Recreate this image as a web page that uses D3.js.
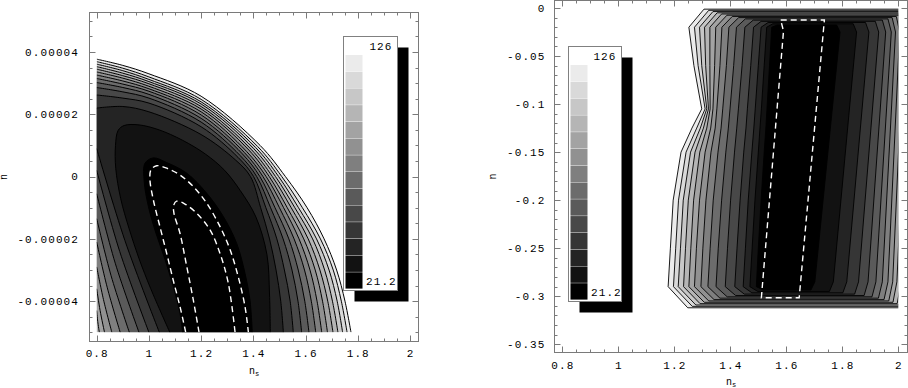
<!DOCTYPE html>
<html>
<head>
<meta charset="utf-8">
<script src="https://cdn.jsdelivr.net/npm/d3@7"></script>
<style>
body { margin: 0; background: #fff; }
svg text { font-family: "Liberation Mono", "DejaVu Sans Mono", monospace; font-size: 11px; fill: #000; letter-spacing: 1.1px; }
</style>
</head>
<body>
<svg id="chart" width="908" height="388"></svg>
<script>
// ---- data ----
const nBands = 14;
const legendLabels = ["21.2", "126"];

const leftXTicks = [0.8, 1, 1.2, 1.4, 1.6, 1.8, 2];
const leftXLabels = ["0.8", "1", "1.2", "1.4", "1.6", "1.8", "2"];
const leftYTicks = [-4e-5, -2e-5, 0, 2e-5, 4e-5];
const leftYLabels = ["-0.00004", "-0.00002", "0", "0.00002", "0.00004"];
const rightXTicks = [0.8, 1, 1.2, 1.4, 1.6, 1.8, 2];
const rightXLabels = ["0.8", "1", "1.2", "1.4", "1.6", "1.8", "2"];
const rightYTicks = [0, -0.05, -0.1, -0.15, -0.2, -0.25, -0.3, -0.35];
const rightYLabels = ["0", "-0.05", "-0.1", "-0.15", "-0.2", "-0.25", "-0.3", "-0.35"];

// left panel: n_s vs y in units of 1e-5, data cut at y = -5
const LY = 1e-5;
// levels 1 and 2: closed on the bottom edge
const leftInner = [
  [[1.129,-5],[1.119,-4.39],[1.093,-3.53],[1.062,-2.67],[1.027,-1.82],[0.998,-0.96],[0.982,-0.16],
   [0.985,0.43],[1.017,0.6],[1.068,0.45],[1.145,0.11],[1.221,-0.53],[1.285,-1.28],[1.336,-2.14],
   [1.368,-3.1],[1.387,-3.96],[1.396,-5]],
  [[1.08,-5],[1.007,-3.6],[0.962,-2.63],[0.924,-1.67],[0.892,-0.71],[0.873,0.26],[0.872,1.0],
   [0.882,1.48],[0.905,1.64],[0.962,1.66],[1.039,1.5],[1.128,1.17],[1.217,0.72],[1.29,0.2],
   [1.35,-0.45],[1.41,-1.3],[1.452,-2.5],[1.462,-3.8],[1.465,-5]]
];
// levels 3..14: upper arc, from left edge to bottom edge
const leftArcs = [
  [[0.8,2.2],[0.9,2.25],[1.0,2.08],[1.2,1.35],[1.332,0.53],[1.389,0],[1.428,-1],[1.462,-2],[1.487,-3],[1.505,-4],[1.515,-5]],
  [[0.8,2.62],[0.9,2.52],[1.0,2.36],[1.2,1.6],[1.341,0.62],[1.401,0],[1.448,-1],[1.49,-2],[1.519,-3],[1.541,-4],[1.553,-5]],
  [[0.8,2.86],[0.9,2.72],[1.0,2.52],[1.2,1.75],[1.349,0.68],[1.413,0],[1.466,-1],[1.514,-2],[1.548,-3],[1.571,-4],[1.585,-5]],
  [[0.8,3.02],[0.9,2.86],[1.0,2.64],[1.2,1.87],[1.358,0.73],[1.425,0],[1.483,-1],[1.536,-2],[1.572,-3],[1.597,-4],[1.613,-5]],
  [[0.8,3.15],[0.9,2.97],[1.0,2.74],[1.2,1.98],[1.366,0.77],[1.437,0],[1.5,-1],[1.556,-2],[1.596,-3],[1.622,-4],[1.639,-5]],
  [[0.8,3.26],[0.9,3.07],[1.0,2.82],[1.2,2.08],[1.374,0.81],[1.449,0],[1.516,-1],[1.575,-2],[1.617,-3],[1.644,-4],[1.662,-5]],
  [[0.8,3.36],[0.9,3.16],[1.0,2.9],[1.2,2.17],[1.383,0.85],[1.461,0],[1.53,-1],[1.593,-2],[1.637,-3],[1.665,-4],[1.684,-5]],
  [[0.8,3.45],[0.9,3.24],[1.0,2.98],[1.2,2.25],[1.391,0.88],[1.473,0],[1.545,-1],[1.61,-2],[1.655,-3],[1.685,-4],[1.705,-5]],
  [[0.8,3.53],[0.9,3.32],[1.0,3.05],[1.2,2.33],[1.4,0.91],[1.485,0],[1.559,-1],[1.627,-2],[1.673,-3],[1.703,-4],[1.724,-5]],
  [[0.8,3.61],[0.9,3.4],[1.0,3.12],[1.2,2.4],[1.408,0.94],[1.497,0],[1.573,-1],[1.642,-2],[1.69,-3],[1.721,-4],[1.742,-5]],
  [[0.8,3.69],[0.9,3.48],[1.0,3.2],[1.2,2.48],[1.416,0.97],[1.509,0],[1.588,-1],[1.657,-2],[1.706,-3],[1.737,-4],[1.759,-5]],
  [[0.8,3.77],[0.9,3.57],[1.0,3.3],[1.2,2.58],[1.426,1.0],[1.523,0],[1.606,-1],[1.671,-2],[1.719,-3],[1.751,-4],[1.774,-5]]
];
// levels 3..10: lower arm, from left edge to bottom edge
const leftArms = [
  [[0.8,0.9],[0.908,-2.05],[1.04,-5]],
  [[0.8,0.2],[0.888,-2.4],[1.0,-5]],
  [[0.8,-0.55],[0.871,-2.78],[0.962,-5]],
  [[0.8,-1.35],[0.855,-3.18],[0.925,-5]],
  [[0.8,-2.1],[0.84,-3.55],[0.89,-5]],
  [[0.8,-2.9],[0.826,-3.95],[0.858,-5]],
  [[0.8,-3.6],[0.813,-4.3],[0.83,-5]],
  [[0.8,-4.3],[0.804,-4.65],[0.81,-5]]
];
const leftDashed = [
  [[1.141,-5],[1.119,-4.17],[1.093,-3.32],[1.068,-2.46],[1.042,-1.6],[1.017,-0.75],[1.004,-0.1],
   [1.008,0.22],[1.03,0.35],[1.068,0.27],[1.119,0.05],[1.17,-0.32],[1.221,-0.85],[1.272,-1.6],
   [1.311,-2.35],[1.342,-3.21],[1.368,-4.17],[1.381,-5]],
  [[1.192,-5],[1.17,-3.96],[1.145,-2.89],[1.119,-1.82],[1.096,-1.18],[1.095,-0.92],[1.106,-0.79],
   [1.138,-0.88],[1.183,-1.18],[1.234,-1.71],[1.272,-2.46],[1.304,-3.42],[1.33,-5]]
];

// right panel: nested boxes, levels 1..14
const rightTopY = [-0.0177,-0.0164,-0.0151,-0.0139,-0.0126,-0.0113,-0.01,-0.0088,-0.0075,-0.0062,-0.005,-0.0037,-0.0024,-0.0012];
const rightBotY = [-0.2935,-0.295,-0.2964,-0.2978,-0.2992,-0.3006,-0.302,-0.3035,-0.3049,-0.3063,-0.3077,-0.3091,-0.3105,-0.312];
const rightSideY = [-0.02, -0.06, -0.105, -0.125, -0.15, -0.2, -0.25, -0.29];
const rightLeftX = [
  [1.548,1.54,1.531,1.527,1.521,1.51,1.5,1.493],
  [1.53,1.521,1.511,1.506,1.5,1.488,1.478,1.47],
  [1.51,1.5,1.489,1.484,1.477,1.464,1.454,1.446],
  [1.483,1.473,1.461,1.456,1.448,1.435,1.424,1.416],
  [1.452,1.442,1.429,1.423,1.415,1.401,1.39,1.382],
  [1.422,1.412,1.399,1.393,1.384,1.369,1.357,1.349],
  [1.395,1.386,1.373,1.367,1.356,1.339,1.328,1.32],
  [1.37,1.363,1.352,1.346,1.331,1.313,1.302,1.295],
  [1.348,1.344,1.338,1.33,1.31,1.29,1.279,1.272],
  [1.327,1.327,1.328,1.316,1.291,1.269,1.259,1.252],
  [1.308,1.312,1.322,1.304,1.274,1.25,1.24,1.233],
  [1.29,1.298,1.316,1.293,1.258,1.232,1.222,1.214],
  [1.272,1.285,1.31,1.28,1.242,1.215,1.205,1.197],
  [1.252,1.27,1.298,1.263,1.224,1.196,1.186,1.178]
];
const rightRightX = [
  [1.792,1.702],[1.851,1.768],[1.895,1.816],[1.93,1.858],[1.955,1.892],[1.975,1.92],[1.99,1.943],
  [2.005,1.963],[2.02,1.98],[2.035,1.995],[2.05,2.01],[2.06,2.02],[2.07,2.03],[2.08,2.04]
];
const rightCornerTop = [0.02,0.022,0.025,0.027,0.03,0.032,0.035,0.037,0.04,0.042,0.045,0.048,0.051,0.054];
const rightCornerBot = [0.025,0.028,0.031,0.034,0.037,0.04,0.043,0.047,0.051,0.055,0.059,0.063,0.067,0.07];
const rightDashed = [[1.58,-0.0125],[1.736,-0.0125],[1.646,-0.3015],[1.511,-0.3015],[1.59,-0.024]];

// ---- drawing ----
const svg = d3.select("#chart");
const defs = svg.append("defs");
const shade = d3.scaleLinear().domain([0, nBands - 1]).range(["#000000", "#ebebeb"]);
const frameColor = "#7a7a7a";
const smooth = d3.line().curve(d3.curveCatmullRom.alpha(0.5));
const straight = d3.line();

function addClip(id, x0, y0, x1, y1) {
  defs.append("clipPath").attr("id", id).append("rect")
    .attr("x", x0).attr("y", y0).attr("width", x1 - x0).attr("height", y1 - y0);
}

function minorValues(scale, a, b, step) {
  let lo = Math.min(scale.invert(a), scale.invert(b));
  let hi = Math.max(scale.invert(a), scale.invert(b));
  return d3.range(Math.ceil(lo / step - 1e-6), Math.floor(hi / step + 1e-6) + 1).map(i => i * step);
}

function drawFrame(g, f, xs, ys, o) {
  let t = g.append("g").attr("stroke", frameColor).attr("stroke-width", 1);
  let tick = (x1, y1, x2, y2) => t.append("line").attr("x1", x1).attr("y1", y1).attr("x2", x2).attr("y2", y2);
  minorValues(xs, f.x0, f.x1, o.xMinor).forEach(v => {
    let x = Math.round(xs(v)) + 0.5;
    tick(x, f.y1, x, f.y1 - 3); tick(x, f.y0, x, f.y0 + 3);
  });
  minorValues(ys, f.y0, f.y1, o.yMinor).forEach(v => {
    let y = Math.round(ys(v)) + 0.5;
    tick(f.x0, y, f.x0 + 3, y); tick(f.x1, y, f.x1 - 3, y);
  });
  o.xTicks.forEach(v => {
    let x = Math.round(xs(v)) + 0.5;
    tick(x, f.y1, x, f.y1 - 6); tick(x, f.y0, x, f.y0 + 6);
  });
  o.yTicks.forEach(v => {
    let y = Math.round(ys(v)) + 0.5;
    tick(f.x0, y, f.x0 + 6, y); tick(f.x1, y, f.x1 - 6, y);
  });
  t.append("rect").attr("x", f.x0).attr("y", f.y0)
    .attr("width", f.x1 - f.x0).attr("height", f.y1 - f.y0).attr("fill", "none");

  g.append("g").selectAll("text").data(o.xTicks).join("text")
    .attr("x", v => xs(v) + 0.5).attr("y", f.y1 + o.xLabelGap).attr("dy", "0.35em")
    .attr("text-anchor", "middle").text((v, i) => o.xLabels[i]);
  g.append("g").selectAll("text").data(o.yTicks).join("text")
    .attr("x", f.x0 - o.yLabelGap).attr("y", v => ys(v)).attr("dy", "0.35em")
    .attr("text-anchor", "end").text((v, i) => o.yLabels[i]);

  let xt = g.append("text").attr("x", (f.x0 + f.x1) / 2).attr("y", o.xTitleY)
    .attr("text-anchor", "middle").style("font-size", "10px").style("letter-spacing", "0px");
  xt.append("tspan").text("n");
  xt.append("tspan").attr("dy", 2).style("font-size", "7px").text("s");
  g.append("text").attr("transform", `translate(${o.yTitleX},${(f.y0 + f.y1) / 2}) rotate(-90)`)
    .attr("text-anchor", "middle").attr("dy", "0.35em")
    .style("font-size", "10px").style("letter-spacing", "0px").text("n");
}

function drawLegend(g, L) {
  g.append("rect").attr("x", L.x + 11).attr("y", L.y + 11).attr("width", L.w).attr("height", L.h).attr("fill", "#000");
  g.append("rect").attr("x", L.x).attr("y", L.y).attr("width", L.w).attr("height", L.h)
    .attr("fill", "#fff").attr("stroke", "#808080");
  let sh = (L.h - 20) / nBands;
  g.append("g").selectAll("rect").data(d3.range(nBands)).join("rect")
    .attr("x", L.x + 2).attr("y", b => L.y + 18.5 + (nBands - 1 - b) * sh)
    .attr("width", 17).attr("height", sh - 0.4).attr("fill", b => shade(b));
  g.append("text").attr("x", L.x + L.w - 5).attr("y", L.y + 10).attr("dy", "0.35em")
    .attr("text-anchor", "end").text(legendLabels[1]);
  g.append("text").attr("x", L.x + 22.5).attr("y", L.y + L.h - 9.5).attr("dy", "0.35em")
    .text(legendLabels[0]);
}

// left panel
{
  const f = {x0: 89.5, x1: 418.5, y0: 12.5, y1: 341.5};
  const x = d3.scaleLinear().domain([0.8, 2]).range([96.7, 410]);
  const y = d3.scaleLinear().domain([-4e-5, 4e-5]).range([301.2, 52]);
  const pt = p => [x(p[0]), y(p[1] * LY)];
  const g = svg.append("g");
  addClip("clipL", x(0.8), y(5 * LY), f.x1, y(-5 * LY));
  const body = g.append("g").attr("clip-path", "url(#clipL)");

  function fillPath(level) {
    if (level <= 2) return smooth(leftInner[level - 1].map(pt)) + "Z";
    let s = smooth(leftArcs[level - 3].map(pt));
    let arm = leftArms[level - 3];
    if (arm) s += smooth(arm.slice().reverse().map(pt)).replace(/^M/, "L") + "Z";
    else s += "L" + pt([0.8, -5]).join(",") + "Z";
    return s;
  }
  for (let k = nBands; k >= 1; k--) {
    body.append("path").attr("d", fillPath(k)).attr("fill", shade(k - 1));
  }
  const lines = body.append("g").attr("fill", "none").attr("stroke", "#000").attr("stroke-width", 1);
  leftInner.concat(leftArcs, leftArms).forEach(c => lines.append("path").attr("d", smooth(c.map(pt))));
  body.append("g").attr("fill", "none").attr("stroke", "#fff").attr("stroke-width", 1.4)
    .attr("stroke-dasharray", "6,4")
    .selectAll("path").data(leftDashed).join("path").attr("d", c => smooth(c.map(pt)));

  drawFrame(g, f, x, y, {
    xTicks: leftXTicks, xLabels: leftXLabels, xMinor: 0.05,
    yTicks: leftYTicks, yLabels: leftYLabels, yMinor: 5e-6,
    xLabelGap: 12, yLabelGap: 10.5, xTitleY: 374, yTitleX: 3
  });
  drawLegend(g, {x: 343.5, y: 36.5, w: 54, h: 254});
}

// right panel
{
  const f = {x0: 554.5, x1: 907.5, y0: 0.5, y1: 352.5};
  const x = d3.scaleLinear().domain([1, 2]).range([618.3, 898.3]);
  const y = d3.scaleLinear().domain([-0.35, 0]).range([344.3, 8]);
  const pt = p => [x(p[0]), y(p[1])];
  const g = svg.append("g");
  addClip("clipR", f.x0, y(0), x(2), y(-0.35));
  const body = g.append("g").attr("clip-path", "url(#clipR)");

  function box(i) {
    let L = rightLeftX[i], R = rightRightX[i];
    let yT = rightTopY[i], yB = rightBotY[i];
    let pts = [[L[0] + rightCornerTop[i], yT], [R[0] - 0.012, yT], [R[0], -0.025],
               [R[1], -0.285], [R[1] - 0.014, yB], [L[L.length - 1] + rightCornerBot[i], yB]];
    for (let j = L.length - 1; j >= 0; j--) pts.push([L[j], rightSideY[j]]);
    return pts;
  }
  for (let i = nBands - 1; i >= 0; i--) {
    body.append("path").attr("d", straight(box(i).map(pt)) + "Z")
      .attr("fill", shade(i)).attr("stroke", "#000").attr("stroke-width", 0.9)
      .attr("stroke-linejoin", "round");
  }
  body.append("path").attr("d", straight(rightDashed.map(pt)) + "Z")
    .attr("fill", "none").attr("stroke", "#fff").attr("stroke-width", 1.4).attr("stroke-dasharray", "6,4");

  drawFrame(g, f, x, y, {
    xTicks: rightXTicks, xLabels: rightXLabels, xMinor: 0.05,
    yTicks: rightYTicks, yLabels: rightYLabels, yMinor: 0.01,
    xLabelGap: 13, yLabelGap: 9, xTitleY: 385, yTitleX: 492
  });
  drawLegend(g, {x: 568.5, y: 46.5, w: 53, h: 255});
}
</script>
</body>
</html>
